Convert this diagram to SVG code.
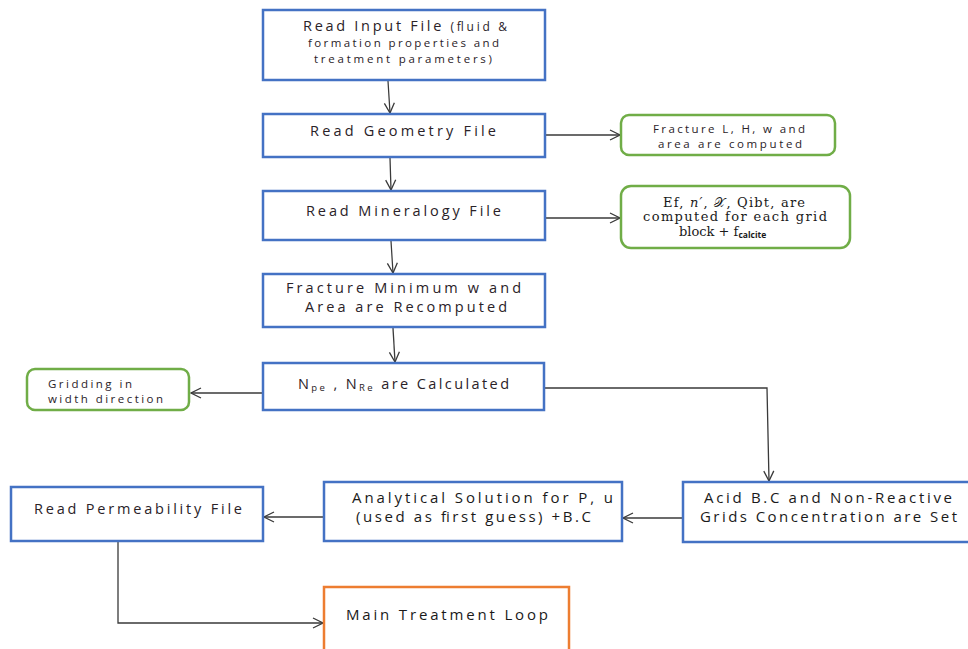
<svg xmlns="http://www.w3.org/2000/svg" width="968" height="649" viewBox="0 0 968 649">
<defs>
<style>
.box{fill:#fff;stroke:#4472c4;stroke-width:2.5}
.gbox{fill:#fff;stroke:#70ad47;stroke-width:2.5}
.obox{fill:#fff;stroke:#ed7d31;stroke-width:2.5}
.t{font-family:"Open Sans","DejaVu Sans",sans-serif;fill:#2a2228;font-size:14.5px}
.s{font-family:"Open Sans","DejaVu Sans",sans-serif;fill:#2a2228;font-size:11.5px}
.c{font-family:"Open Sans","DejaVu Sans",sans-serif;fill:#1a1a1a;font-size:15px}
.m{font-family:"DejaVu Serif","Liberation Serif",serif;fill:#1a1a1a;font-size:13px}
.conn{fill:none;stroke:#3a3a3a;stroke-width:1.3}
</style>
<marker id="arr" viewBox="0 0 12 12" refX="11" refY="6" markerWidth="12" markerHeight="12" markerUnits="userSpaceOnUse" orient="auto">
<path d="M1,1 L11,6 L1,11" fill="none" stroke="#3a3a3a" stroke-width="1.3"/>
</marker>
</defs>
<rect width="968" height="649" fill="#fff"/>

<g id="connectors">
<line class="conn" x1="388" y1="81" x2="390" y2="113" marker-end="url(#arr)"/>
<line class="conn" x1="390" y1="158" x2="391" y2="190" marker-end="url(#arr)"/>
<line class="conn" x1="391" y1="241" x2="393" y2="273" marker-end="url(#arr)"/>
<line class="conn" x1="393" y1="328" x2="395" y2="362" marker-end="url(#arr)"/>
<line class="conn" x1="545" y1="135" x2="620" y2="135" marker-end="url(#arr)"/>
<line class="conn" x1="545" y1="218" x2="620" y2="218" marker-end="url(#arr)"/>
<line class="conn" x1="262" y1="393" x2="191" y2="393" marker-end="url(#arr)"/>
<polyline class="conn" points="544,388 767,388 769,481" marker-end="url(#arr)"/>
<line class="conn" x1="683" y1="518" x2="623" y2="518" marker-end="url(#arr)"/>
<line class="conn" x1="324" y1="517" x2="264" y2="517" marker-end="url(#arr)"/>
<polyline class="conn" points="118,542 118,623 323,623" marker-end="url(#arr)"/>
</g>

<g id="read-input">
<rect class="box" x="263" y="10" width="282" height="70"/>
<text class="t" x="303" y="31" textLength="204" lengthAdjust="spacing">Read Input File <tspan style="font-size:12px">(fluid &amp;</tspan></text>
<text class="s" x="308" y="47" textLength="191" lengthAdjust="spacing">formation properties and</text>
<text class="s" x="314" y="63" textLength="178" lengthAdjust="spacing">treatment parameters)</text>
</g>

<g id="read-geometry">
<rect class="box" x="263" y="114" width="282" height="43"/>
<text class="t" x="310" y="136" textLength="186" lengthAdjust="spacing">Read Geometry File</text>
</g>

<g id="fracture-lhw">
<rect class="gbox" x="621" y="115" width="214" height="40" rx="8"/>
<text class="s" x="653" y="133" textLength="152" lengthAdjust="spacing">Fracture L, H, w and</text>
<text class="s" x="658" y="148" textLength="144" lengthAdjust="spacing">area are computed</text>
</g>

<g id="read-mineralogy">
<rect class="box" x="263" y="191" width="282" height="49"/>
<text class="t" x="306" y="216" textLength="195" lengthAdjust="spacing">Read Mineralogy File</text>
</g>

<g id="ef-computed">
<rect class="gbox" x="621" y="186" width="229" height="62" rx="10"/>
<text class="m" x="663" y="207" textLength="142" lengthAdjust="spacing">Ef, <tspan font-style="italic">n′</tspan>, 𝒳, Qibt, are</text>
<text class="m" x="643" y="221" textLength="184" lengthAdjust="spacing">computed for each grid</text>
<text class="m" x="679" y="236">block +  f<tspan font-size="8.5" font-family="Open Sans, sans-serif" font-weight="bold" dy="2">calcite</tspan></text>
</g>

<g id="fracture-min">
<rect class="box" x="263" y="274" width="282" height="53"/>
<text class="t" x="286" y="293" textLength="235" lengthAdjust="spacing">Fracture Minimum w and</text>
<text class="t" x="305" y="312" textLength="202" lengthAdjust="spacing">Area are Recomputed</text>
</g>

<g id="npe-nre">
<rect class="box" x="263" y="363" width="281" height="47"/>
<text class="t" x="298" y="389" textLength="211" lengthAdjust="spacing">N<tspan font-size="9.5" dy="2">pe</tspan><tspan dy="-2"> , N</tspan><tspan font-size="9.5" dy="2">Re</tspan><tspan dy="-2"> are Calculated</tspan></text>
</g>

<g id="gridding">
<rect class="gbox" x="27" y="369" width="162" height="41" rx="8"/>
<text class="s" x="48" y="388" textLength="84" lengthAdjust="spacing">Gridding in</text>
<text class="s" x="48" y="403" textLength="115" lengthAdjust="spacing">width direction</text>
</g>

<g id="acid-bc">
<rect class="box" x="683" y="482" width="290" height="60"/>
<text class="c" x="704" y="503" textLength="248" lengthAdjust="spacing">Acid B.C and Non-Reactive</text>
<text class="c" x="700" y="522" textLength="257" lengthAdjust="spacing">Grids Concentration are Set</text>
</g>

<g id="analytical">
<rect class="box" x="324" y="482" width="298" height="59"/>
<text class="c" x="352" y="503" textLength="261" lengthAdjust="spacing">Analytical Solution for P, u</text>
<text class="c" x="356" y="522" textLength="235" lengthAdjust="spacing">(used as first guess) +B.C</text>
</g>

<g id="read-permeability">
<rect class="box" x="11" y="487" width="252" height="54"/>
<text class="t" x="34" y="514" textLength="208" lengthAdjust="spacing">Read Permeability File</text>
</g>

<g id="main-loop">
<rect class="obox" x="324" y="587" width="245" height="80"/>
<text class="c" x="346" y="620" textLength="202" lengthAdjust="spacing">Main Treatment Loop</text>
</g>
</svg>
